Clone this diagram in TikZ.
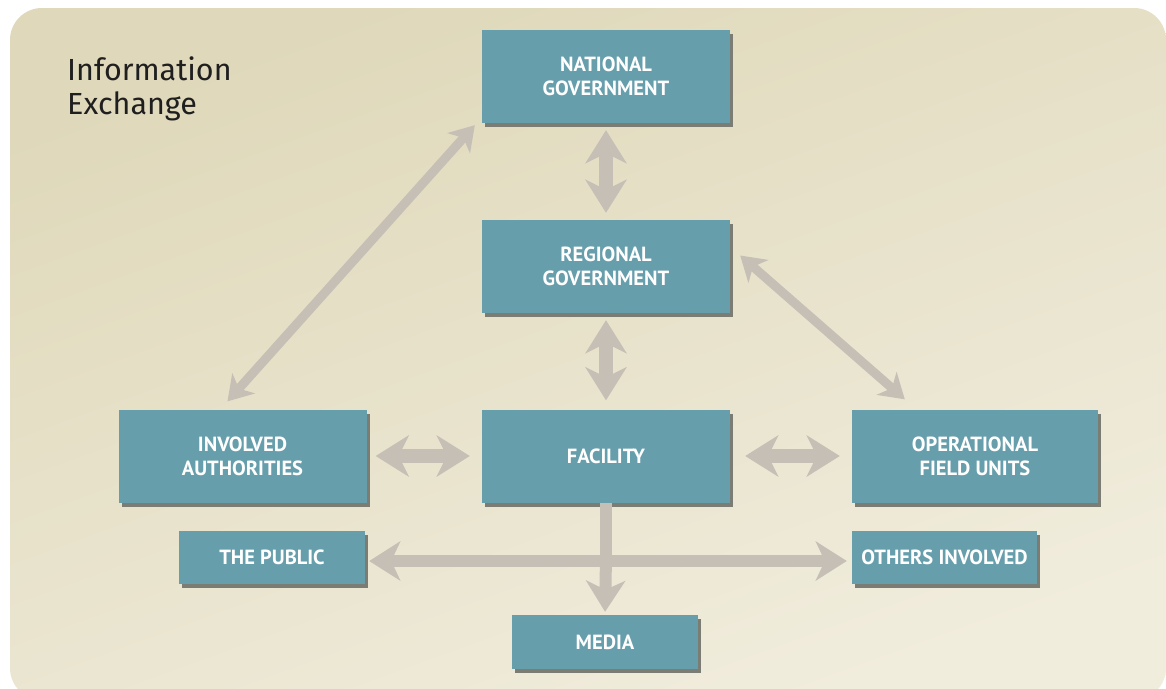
\documentclass[tikz,border=0pt]{standalone}
\usepackage{fontspec}
\setmainfont{PT Sans}
\newfontfamily\titlefont{Fira Sans}
\usetikzlibrary{arrows.meta,shadows,calc}
\definecolor{boxteal}{HTML}{669EAC}
\definecolor{shadegrey}{HTML}{7B7C74}
\definecolor{arrowgrey}{HTML}{C5BFB5}
\definecolor{bgtop}{HTML}{DFD8BA}
\definecolor{bgbottom}{HTML}{F1EDDD}
\tikzset{unitbox/.style={fill=boxteal, text=white, align=center, inner sep=2pt,
  font=\bfseries\fontsize{20.5}{24}\selectfont, minimum width=248pt, minimum height=93pt,
  drop shadow={shadow xshift=3pt, shadow yshift=-4pt, fill=shadegrey, opacity=1}},
 smallbox/.style={unitbox, minimum width=186pt, minimum height=53pt},
 xchange/.style={draw=arrowgrey, line width=14pt, {Stealth[length=33pt,width=41pt,inset=10pt]}-{Stealth[length=33pt,width=41pt,inset=10pt]}},
 slant/.style={draw=arrowgrey, line width=9pt, {Stealth[length=24pt,width=30pt,inset=7pt]}-{Stealth[length=24pt,width=30pt,inset=7pt]}},
 flow/.style={draw=arrowgrey, line width=12pt}}

\begin{document}
\begin{tikzpicture}[x=1pt,y=-1pt]
\useasboundingbox (0,0) rectangle (1166,688);
% backdrop
\fill[white] (0,0) rectangle (1166,688);
\shade[top color=bgtop, bottom color=bgbottom, shading angle=20, rounded corners=32pt]
 (10,8) rectangle (1166,700);
\node[font=\titlefont\fontsize{30.5}{34}\selectfont, text=black!88, align=left, anchor=north west, inner sep=0pt] (title) at (67,57) {Information\\Exchange};

% boxes
\node[unitbox] (nat) at (606,76.5) {NATIONAL\\GOVERNMENT};
\node[unitbox] (reg) at (606,266.5) {REGIONAL\\GOVERNMENT};
\node[unitbox] (fac) at (606,456) {FACILITY};
\node[unitbox] (inv) at (242.5,456) {INVOLVED\\AUTHORITIES};
\node[unitbox, minimum width=246pt] (ops) at (975,456) {OPERATIONAL\\FIELD UNITS};
\node[smallbox] (pub) at (272,557) {THE PUBLIC};
\node[smallbox, minimum width=185pt] (oth) at (944.5,557) {OTHERS INVOLVED};
\node[smallbox, minimum height=54pt] (med) at (605,642) {MEDIA};

% exchanges
\draw[xchange, shorten <=7pt, shorten >=7pt] (nat) -- (reg);
\draw[xchange, shorten <=7pt, shorten >=9pt] (reg) -- (fac);
\draw[xchange, shorten <=9pt, shorten >=12pt] (inv) -- (fac);
\draw[xchange, shorten <=15pt, shorten >=12pt] (fac) -- (ops);
\draw[slant] ([shift={(-15,-8)}]inv.north) -- ([shift={(-7,2)}]nat.south west);
\draw[slant] ([shift={(10,-11)}]reg.east) -- ([shift={(53,-10)}]ops.north west);

% spread to the public
\draw[flow] (fac.south) -- (fac.south |- pub.east);
\draw[flow, -{Stealth[length=31pt,width=39pt,inset=9pt]}, shorten >=3pt] (fac.south |- pub.east) -- (med.north);
\draw[flow, {Stealth[length=31pt,width=39pt,inset=9pt]}-{Stealth[length=31pt,width=39pt,inset=9pt]}, shorten <=4pt, shorten >=5pt] ([yshift=-4pt]pub.east) -- ([yshift=-4pt]oth.west);
\end{tikzpicture}
\end{document}
